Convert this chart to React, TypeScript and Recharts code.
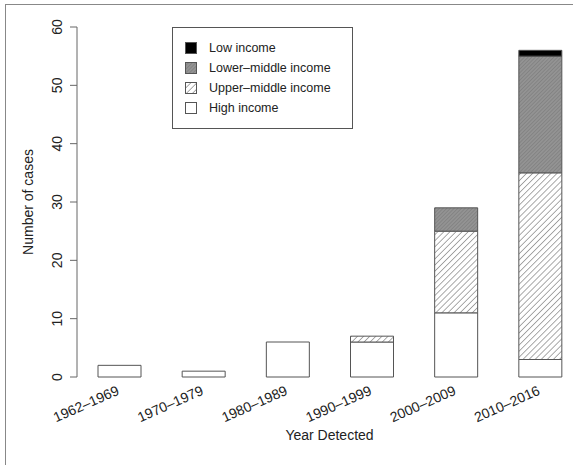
import { BarChart, Bar, XAxis, YAxis, Label } from 'recharts';

document.body.style.margin = '0';

// values
const periods = ['1962–1969', '1970–1979', '1980–1989', '1990–1999', '2000–2009', '2010–2016'];
const highIncome = [2, 1, 6, 6, 11, 3];
const upperMiddleIncome = [0, 0, 0, 1, 14, 32];
const lowerMiddleIncome = [0, 0, 0, 0, 4, 20];
const lowIncome = [0, 0, 0, 0, 0, 1];
const yTicks = [0, 10, 20, 30, 40, 50, 60];

const FONT = '"Liberation Sans", Arial, Helvetica, sans-serif';
const EDGE = '#555';
const TEXT = '#222';

// stacking order: first is drawn at the bottom
const series = [
  { key: 'high', name: 'High income', values: highIncome, fill: '#ffffff' },
  { key: 'upper', name: 'Upper–middle income', values: upperMiddleIncome, fill: 'url(#hatchUpper)' },
  { key: 'lower', name: 'Lower–middle income', values: lowerMiddleIncome, fill: 'url(#hatchLower)' },
  { key: 'low', name: 'Low income', values: lowIncome, fill: '#000000' },
];

const data = periods.map((period, i) => {
  const row: Record<string, string | number> = { period };
  series.forEach((s) => {
    row[s.key] = s.values[i];
  });
  return row;
});

function XTick(props: any) {
  const { x, y, payload } = props;
  const tx = x + 1;
  const ty = y + 17;
  return (
    <text
      x={tx}
      y={ty}
      textAnchor="end"
      transform={`rotate(-24, ${tx}, ${ty})`}
      fontSize={14}
      fontFamily={FONT}
      fill={TEXT}
    >
      {payload.value}
    </text>
  );
}

function YTick(props: any) {
  const { x, y, payload } = props;
  const tx = x - 6;
  return (
    <text
      x={tx}
      y={y}
      textAnchor="middle"
      transform={`rotate(-90, ${tx}, ${y})`}
      fontSize={14}
      fontFamily={FONT}
      fill={TEXT}
    >
      {payload.value}
    </text>
  );
}

function YLabel(props: any) {
  const vb = props.viewBox || { x: 0, y: 27, width: 77, height: 350 };
  const tx = vb.x + 33;
  const ty = vb.y + vb.height / 2;
  return (
    <text
      x={tx}
      y={ty}
      textAnchor="middle"
      transform={`rotate(-90, ${tx}, ${ty})`}
      fontSize={14}
      fontFamily={FONT}
      fill={TEXT}
    >
      Number of cases
    </text>
  );
}

function XLabel(props: any) {
  const vb = props.viewBox || { x: 77, y: 377, width: 505, height: 88 };
  return (
    <text
      x={vb.x + vb.width / 2}
      y={vb.y + 63}
      textAnchor="middle"
      fontSize={14}
      fontFamily={FONT}
      fill={TEXT}
    >
      Year Detected
    </text>
  );
}

function LegendBox() {
  const items = [...series].reverse();
  return (
    <div
      style={{
        position: 'absolute',
        left: 172,
        top: 27,
        width: 179,
        height: 100,
        border: `1px solid ${EDGE}`,
        background: '#fff',
        fontFamily: FONT,
        fontSize: 12.5,
        color: TEXT,
      }}
    >
      {items.map((s, i) => (
        <div
          key={s.key}
          style={{
            position: 'absolute',
            left: 12,
            top: 13 + i * 20,
            display: 'flex',
            alignItems: 'center',
            whiteSpace: 'nowrap',
          }}
        >
          <svg width={12} height={12} style={{ display: 'block' }}>
            <rect x={0.5} y={0.5} width={11} height={11} fill={s.fill} stroke={EDGE} strokeWidth={1} />
          </svg>
          <span style={{ marginLeft: 12, lineHeight: '14px' }}>{s.name}</span>
        </div>
      ))}
    </div>
  );
}

export default function App() {
  return (
    <div style={{ position: 'relative', width: 573, height: 465, overflow: 'hidden', background: '#fff' }}>
      <div
        style={{
          position: 'absolute',
          left: 5,
          top: 4,
          width: 600,
          height: 500,
          borderTop: '1.5px solid #888',
          borderLeft: '1.5px solid #888',
        }}
      />
      <BarChart
        width={600}
        height={465}
        data={data}
        margin={{ top: 27, right: 18, bottom: 0, left: 0 }}
        style={{ position: 'absolute', left: 0, top: 0 }}
      >
        <defs>
          <pattern id="hatchUpper" patternUnits="userSpaceOnUse" width={4.3} height={4.3} patternTransform="rotate(45)">
            <rect width={4.3} height={4.3} fill="#ffffff" />
            <line x1={0} y1={0} x2={0} y2={4.3} stroke="#555" strokeWidth={1} />
          </pattern>
          <pattern id="hatchLower" patternUnits="userSpaceOnUse" width={2.6} height={2.6} patternTransform="rotate(45)">
            <rect width={2.6} height={2.6} fill="#939393" />
            <line x1={0} y1={0} x2={0} y2={2.6} stroke="#767676" strokeWidth={1} />
          </pattern>
        </defs>
        <XAxis
          dataKey="period"
          height={88}
          axisLine={false}
          tickLine={false}
          tickSize={0}
          tickMargin={0}
          interval={0}
          tick={<XTick />}
        >
          <Label content={<XLabel />} />
        </XAxis>
        <YAxis
          type="number"
          domain={[0, 60]}
          ticks={yTicks}
          width={77}
          tickSize={7}
          tickMargin={2}
          axisLine={{ stroke: '#666', strokeWidth: 1 }}
          tickLine={{ stroke: '#666', strokeWidth: 1 }}
          tick={<YTick />}
        >
          <Label content={<YLabel />} />
        </YAxis>
        {series.map((s) => (
          <Bar
            key={s.key}
            dataKey={s.key}
            name={s.name}
            stackId="income"
            barSize={43}
            fill={s.fill}
            stroke={EDGE}
            strokeWidth={1}
            isAnimationActive={false}
          />
        ))}
      </BarChart>
      <LegendBox />
    </div>
  );
}
